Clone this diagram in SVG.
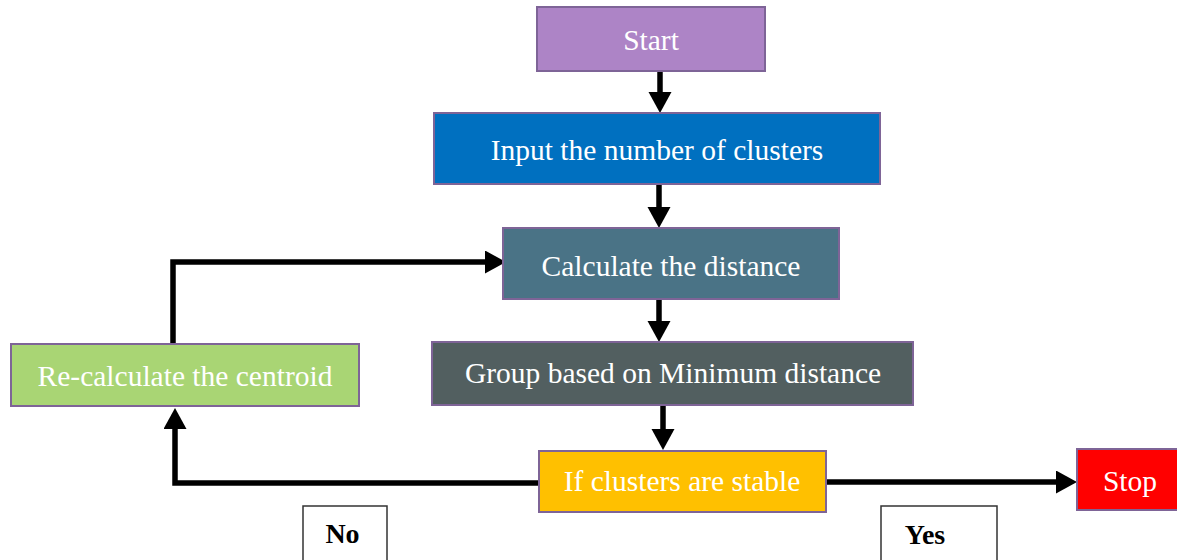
<svg xmlns="http://www.w3.org/2000/svg" width="1177" height="560" viewBox="0 0 1177 560">
  <defs>
    <style>
      .box { stroke: #7E6497; stroke-width: 2; }
      .lbl { font-family: "Liberation Serif", "Times New Roman", serif; font-size: 29.5px; fill: #FFFFFF; text-anchor: middle; }
      .tag { fill: #FFFFFF; stroke: #333333; stroke-width: 1.5; }
      .tagtxt { font-family: "Liberation Serif", "Times New Roman", serif; font-size: 28px; font-weight: bold; fill: #000000; text-anchor: middle; }
      .conn { fill: none; stroke: #000000; stroke-width: 5.5; stroke-linejoin: miter; marker-end: url(#head); }
      .plain { fill: none; stroke: #000000; stroke-width: 5.5; }
    </style>
    <marker id="head" markerUnits="userSpaceOnUse" markerWidth="22" markerHeight="24" refX="1" refY="11.5" orient="auto">
      <path d="M0,0 L21,11.5 L0,23 z" fill="#000000"/>
    </marker>
  </defs>

  <rect width="1177" height="560" fill="#FFFFFF"/>

  <!-- flow connectors -->
  <g id="connectors">
    <path class="conn" d="M660,71 V93"/>
    <path class="conn" d="M659,184 V208"/>
    <path class="conn" d="M659,299 V322"/>
    <path class="conn" d="M663,405 V430"/>
    <path class="conn" d="M173,347 V262 H486"/>
    <path class="conn" d="M539,483 H175 V428"/>
    <path class="conn" d="M826,482 H1057"/>
  </g>

  <g id="start">
    <rect class="box" x="537" y="7" width="228" height="64" fill="#AD84C6"/>
    <text class="lbl" x="651" y="50">Start</text>
  </g>

  <g id="input-clusters">
    <rect class="box" x="434" y="113" width="446" height="71" fill="#0070C0"/>
    <text class="lbl" x="657" y="160">Input the number of clusters</text>
  </g>

  <g id="calc-distance">
    <rect class="box" x="503" y="228" width="336" height="71" fill="#4A7386"/>
    <text class="lbl" x="671" y="276">Calculate the distance</text>
  </g>

  <g id="recalc-centroid">
    <rect class="box" x="11" y="344" width="348" height="62" fill="#A9D574"/>
    <text class="lbl" x="185" y="386">Re-calculate the centroid</text>
  </g>

  <g id="group-min">
    <rect class="box" x="432" y="342" width="481" height="63" fill="#525F60"/>
    <text class="lbl" x="673" y="383">Group based on Minimum distance</text>
  </g>

  <g id="stable-check">
    <rect class="box" x="539" y="451" width="287" height="61" fill="#FFC000"/>
    <text class="lbl" x="682" y="491">If clusters are stable</text>
  </g>

  <g id="stop">
    <rect class="box" x="1077" y="449" width="102" height="61" fill="#FF0000"/>
    <text class="lbl" x="1130" y="491">Stop</text>
  </g>

  <g id="label-no">
    <rect class="tag" x="303" y="506" width="84" height="60"/>
    <text class="tagtxt" x="342.5" y="543">No</text>
  </g>

  <g id="label-yes">
    <rect class="tag" x="881" y="506" width="116" height="60"/>
    <text class="tagtxt" x="925" y="544">Yes</text>
  </g>
</svg>
